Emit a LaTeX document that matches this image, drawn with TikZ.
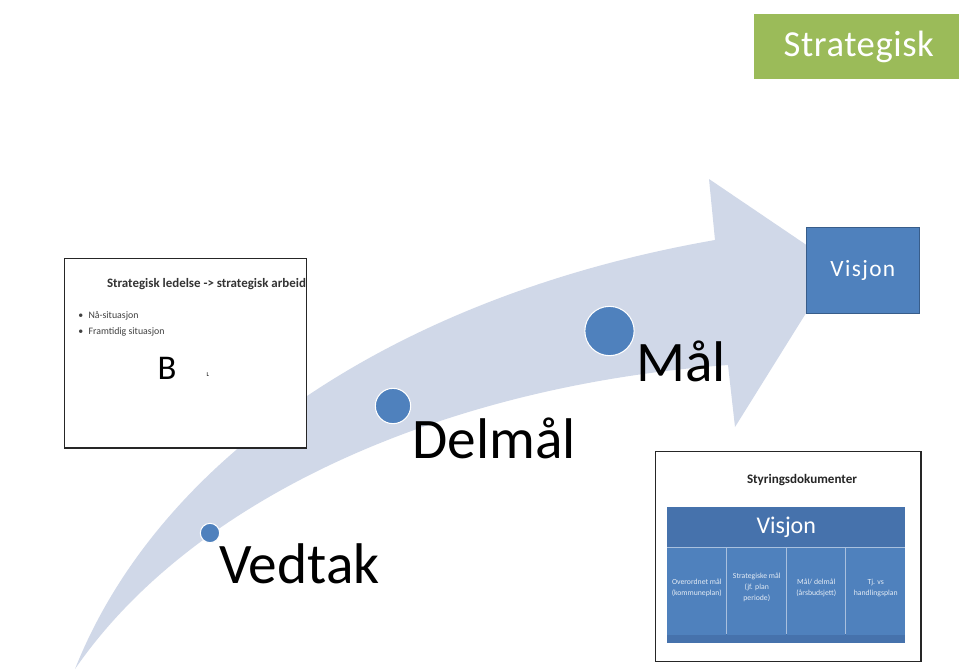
\documentclass[tikz,border=0pt]{standalone}
\usepackage{fontspec}
\setmainfont{Carlito}
\definecolor{arrowfill}{HTML}{D0D8E8}
\definecolor{blueA}{HTML}{4F81BD}
\definecolor{blueD}{HTML}{4672AC}
\definecolor{blueE}{HTML}{385D8A}
\definecolor{blueL}{HTML}{A9C0DE}
\definecolor{greenA}{HTML}{9BBB59}
\tikzset{
  x=0.75pt,y=-0.75pt,
  milestone/.style={circle,fill=blueA,draw=white,line width=0.8pt,inner sep=0pt},
  biglabel/.style={anchor=west,inner sep=0pt,text=black,font=\fontsize{43}{50}\selectfont},
  slide/.style={draw=black!85,line width=1.1pt,fill=white,inner sep=0pt,anchor=north west},
  cell/.style={fill=blueA,inner sep=0pt,anchor=north west,minimum height=65.25pt},
  celltext/.style={inner sep=0pt,text=white,text opacity=0.85,font=\fontsize{5.8}{8.2}\selectfont,align=center,yshift=3pt},
  tinytext/.style={inner sep=0pt,anchor=west,font=\fontsize{7.4}{9}\selectfont,text=black!75},
}
\begin{document}
\begin{tikzpicture}
\useasboundingbox (0,0) rectangle (959,669);
\fill[white] (0,0) rectangle (959,669);
% swoosh arrow
\fill[arrowfill] (75,669) .. controls (160,455) and (400,295) .. (715,240)
  -- (709,179) -- (836,265) -- (735,427) -- (728,365)
  .. controls (450,385) and (195,495) .. (75,669) -- cycle;
% Strategisk
\node[fill=greenA,minimum width=153.75pt,minimum height=48.75pt,inner sep=0pt,anchor=north west] (strat) at (754,14) {};
\node[text=white,inner sep=0pt,font=\fontsize{27.5}{33}\selectfont\addfontfeature{LetterSpace=1.5},xshift=1.5pt] (stratt) at (strat.center) {Strategisk};
% Visjon
\node[fill=blueA,draw=blueE,line width=0.8pt,text=white,minimum width=84.5pt,minimum height=65pt,inner sep=0pt,anchor=north west,font=\fontsize{17.5}{20}\selectfont\addfontfeature{LetterSpace=6}] (vis) at (806,226.5) {Visjon};
% milestones
\node[milestone,minimum size=14.5pt] (m1) at (210,533) {};
\node[milestone,minimum size=26.5pt] (m2) at (393,406) {};
\node[milestone,minimum size=37pt] (m3) at (609.5,331) {};
\node[biglabel] (l1) at (219,564) {Vedtak};
\node[biglabel] (l2) at (412,438) {Delmål};
\node[biglabel] (l3) at (636,361) {Mål};
% left slide
\node[slide,minimum width=181.5pt,minimum height=142pt] (s1) at (63.5,258) {};
\node[inner sep=0pt,font=\bfseries\fontsize{9.7}{11}\selectfont,text=black!80] (s1t) at (206.5,284) {Strategisk ledelse -> strategisk arbeid};
\node[tinytext] (s1a) at (78,316) {•\hspace{4pt}Nå-situasjon};
\node[tinytext] (s1b) at (78,332) {•\hspace{4pt}Framtidig situasjon};
\node[inner sep=0pt,font=\fontsize{26}{30}\selectfont] (s1c) at (167,368) {B};
\node[inner sep=0pt,font=\fontsize{4.5}{5}\selectfont] (s1d) at (208,375) {L};
% right slide
\node[slide,minimum width=199pt,minimum height=157.5pt] (s2) at (655,451) {};
\node[inner sep=0pt,font=\bfseries\fontsize{9.8}{12}\selectfont,text=black!85] (s2t) at (802,480) {Styringsdokumenter};
\fill[blueL] (667,547) rectangle (905,634);
\node[fill=blueD,text=white,minimum width=178.5pt,minimum height=30.5pt,inner sep=0pt,anchor=north west,font=\fontsize{18}{21}\selectfont] (s2h) at (667,506.5) {Visjon};
\node[fill=blueD,minimum width=178.5pt,minimum height=6.75pt,inner sep=0pt,anchor=north west] (s2f) at (667,634) {};
\node[cell,minimum width=44.25pt] (c1) at (667,548) {};
\node[cell,minimum width=44.25pt] (c2) at (727,548) {};
\node[cell,minimum width=43.5pt] (c3) at (787,548) {};
\node[cell,minimum width=44.25pt] (c4) at (846,548) {};
\node[celltext] (c1t) at (c1.center) {Overordnet mål\\(kommuneplan)};
\node[celltext] (c2t) at (c2.center) {Strategiske mål\\(jf. plan\\periode)};
\node[celltext] (c3t) at (c3.center) {Mål/ delmål\\(årsbudsjett)};
\node[celltext] (c4t) at (c4.center) {Tj. vs\\handlingsplan};
\end{tikzpicture}
\end{document}
